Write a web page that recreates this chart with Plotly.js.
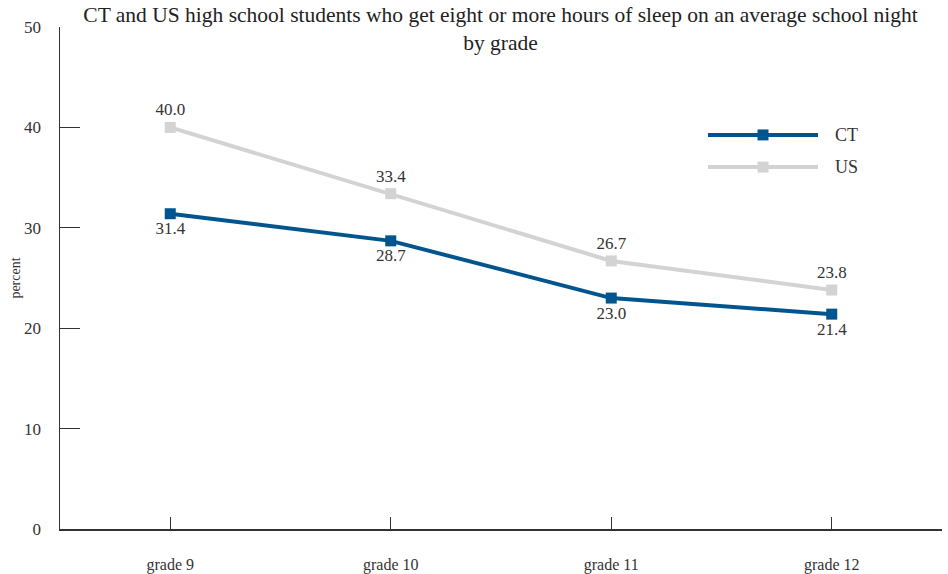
<!DOCTYPE html>
<html><head><meta charset="utf-8">
<script src="https://cdn.plot.ly/plotly-3.0.1.min.js"></script>
<style>html,body{margin:0;padding:0;background:#fff}#chart{width:948px;height:574px}</style>
</head><body><div id="chart"></div>
<script>
const grades = ["grade 9", "grade 10", "grade 11", "grade 12"];
const ctValues = [31.4, 28.7, 23.0, 21.4];
const usValues = [40.0, 33.4, 26.7, 23.8];
const seriesNames = ["CT", "US"];
const yTicks = [0, 10, 20, 30, 40, 50];

const FONT = "Liberation Serif";
const ctColor = "#00558f";
const usColor = "#d3d3d3";
const textColor = "#333333";

const traces = [
  {x: grades, y: usValues, name: seriesNames[1], type: "scatter", mode: "lines+markers+text",
   line: {color: usColor, width: 4}, marker: {symbol: "square", size: 11, color: usColor},
   text: usValues.map(v => v.toFixed(1)), textposition: "top center",
   textfont: {family: FONT, size: 17, color: textColor}, cliponaxis: false, showlegend: false},
  {x: grades, y: ctValues, name: seriesNames[0], type: "scatter", mode: "lines+markers+text",
   line: {color: ctColor, width: 4}, marker: {symbol: "square", size: 11, color: ctColor},
   text: ctValues.map(v => v.toFixed(1)), textposition: "bottom center",
   textfont: {family: FONT, size: 17, color: textColor}, cliponaxis: false, showlegend: false}
];

// custom legend (paper coords)
const legendItems = [{name: seriesNames[0], color: ctColor, y: 0.785}, {name: seriesNames[1], color: usColor, y: 0.721}];
const shapes = [];
const annotations = [];
const lx0 = (708 - 60) / 882, lx1 = (818 - 60) / 882, lxm = (763 - 60) / 882;
const sq = 5.5 / 882, sqy = 5.5 / 502;
legendItems.forEach(it => {
  shapes.push({type: "line", xref: "paper", yref: "paper", x0: lx0, x1: lx1, y0: it.y, y1: it.y,
    line: {color: it.color, width: 4}});
  shapes.push({type: "rect", xref: "paper", yref: "paper", x0: lxm - sq, x1: lxm + sq, y0: it.y - sqy, y1: it.y + sqy,
    line: {width: 0}, fillcolor: it.color});
  annotations.push({xref: "paper", yref: "paper", x: (833 - 60) / 882, y: it.y, xanchor: "left", yanchor: "middle",
    text: it.name, showarrow: false, font: {family: FONT, size: 18, color: textColor}});
});

const layout = {
  width: 948, height: 574,
  margin: {l: 60, r: 6, t: 27, b: 45},
  paper_bgcolor: "#fff", plot_bgcolor: "#fff",
  font: {family: FONT, color: textColor},
  title: {text: "CT and US high school students who get eight or more hours of sleep on an average school night<br>by grade",
    font: {family: FONT, size: 21.5, color: "#222"}, x: 0.528, xanchor: "center", y: 0.962, yanchor: "top"},
  xaxis: {range: [-0.5, 3.5], showgrid: false, zeroline: false, showline: true, linecolor: "#333", linewidth: 1.5,
    ticks: "inside", ticklen: 12, tickcolor: "#333", tickwidth: 1.2, ticklabelstandoff: 20,
    tickfont: {family: FONT, size: 16, color: textColor}, fixedrange: true},
  yaxis: {range: [0, 50], tickvals: yTicks, showgrid: false, zeroline: false, showline: true, linecolor: "#333", linewidth: 1.5,
    ticks: "inside", ticklen: 20, tickcolor: "#333", tickwidth: 1.2, ticklabelstandoff: 14,
    tickfont: {family: FONT, size: 17, color: textColor},
    title: {text: "percent", font: {family: FONT, size: 14, color: textColor}, standoff: 0}, fixedrange: true},
  shapes: shapes, annotations: annotations, showlegend: false
};

Plotly.newPlot("chart", traces, layout, {displayModeBar: false, staticPlot: true});
</script></body></html>
